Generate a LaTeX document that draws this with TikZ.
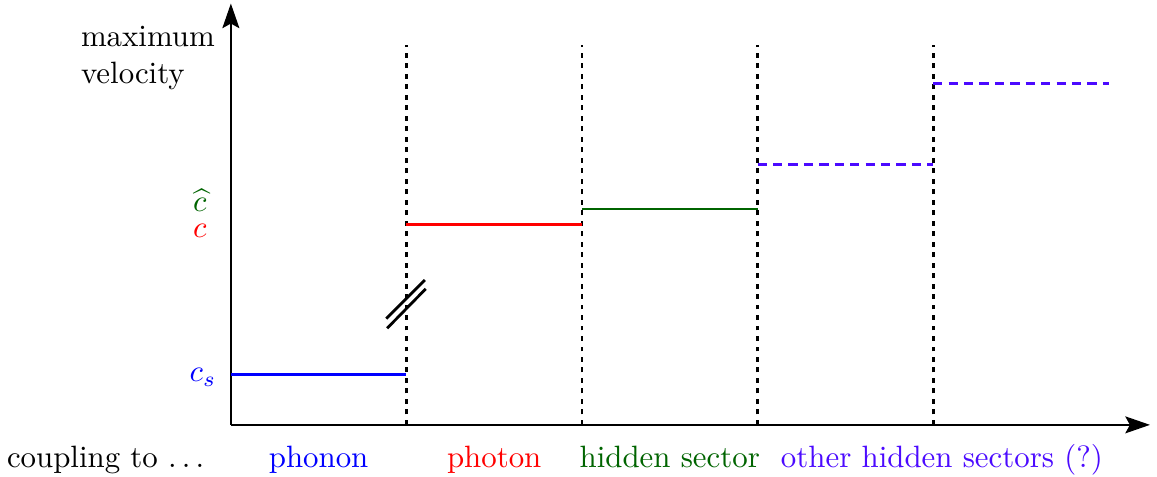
\documentclass[tikz,border=0pt]{standalone}
\usetikzlibrary{arrows.meta}
\definecolor{phonon}{RGB}{0,0,255}
\definecolor{photon}{RGB}{255,0,0}
\definecolor{hidden}{RGB}{0,100,0}
\definecolor{others}{RGB}{75,10,255}

\begin{document}
\begin{tikzpicture}[
    axis/.style={semithick,-{Stealth[length=8pt,width=5.5pt,inset=1.5pt]}},
    sep/.style={line width=0.9pt,dash pattern=on 1.6pt off 1.8pt},
    level/.style={line width=0.9pt},
    guess/.style={level,dash pattern=on 3pt off 2pt},
    vlabel/.style={anchor=base east,inner sep=1pt}]
  \useasboundingbox (-2.63,-0.59) rectangle (10.55,4.84);
  \coordinate (o) at (0,0);
  \coordinate (xend) at (10.47,0);
  \coordinate (yend) at (0,4.8);
  \draw[axis] (o) -- (xend);
  \draw[axis] (o) -- (yend);
  % sector borders
  \foreach \i in {1,...,4} {
    \coordinate (b\i) at (2*\i,0);
    \coordinate (t\i) at (2*\i,4.33);
    \draw[sep] (b\i) -- (t\i);
  }
  % maximum velocities
  \foreach \a/\y/\c/\s [count=\i] in {0/0.57/phonon/level,2/2.28/photon/level,
      4/2.46/hidden/level,6/2.97/others/guess,8/3.89/others/guess}
  {
    \coordinate (l\i) at (\a,\y);
    \coordinate (r\i) at (\a+2,\y);
    \draw[\s,draw=\c] (l\i) -- (r\i);
  }
  % break marks
  \coordinate (k1) at (1.77,1.21);
  \coordinate (k2) at (2.21,1.65);
  \coordinate (k3) at (1.78,1.10);
  \coordinate (k4) at (2.22,1.55);
  \draw[level] (k1) -- (k2);
  \draw[level] (k3) -- (k4);
  % labels
  \node[anchor=north east,align=left] (vmax) at (-0.06,4.66) {maximum\\velocity};
  \node[vlabel,text=hidden] (chat) at (-0.235,2.43) {$\widehat{c}$};
  \node[vlabel,text=photon] (c) at (-0.235,2.13) {$c$};
  \node[vlabel,text=phonon] (cs) at (-0.125,0.49) {$c_s$};
  \node[anchor=base east] (coupling) at (-0.18,-0.48) {coupling to $\ldots$};
  \foreach \t/\x/\c [count=\i] in {phonon/1/phonon,photon/3/photon,
      hidden sector/5/hidden,{other hidden sectors (?)}/8.1/others}
    \node[anchor=base,text=\c] (s\i) at (\x,-0.48) {\t};
\end{tikzpicture}
\end{document}
